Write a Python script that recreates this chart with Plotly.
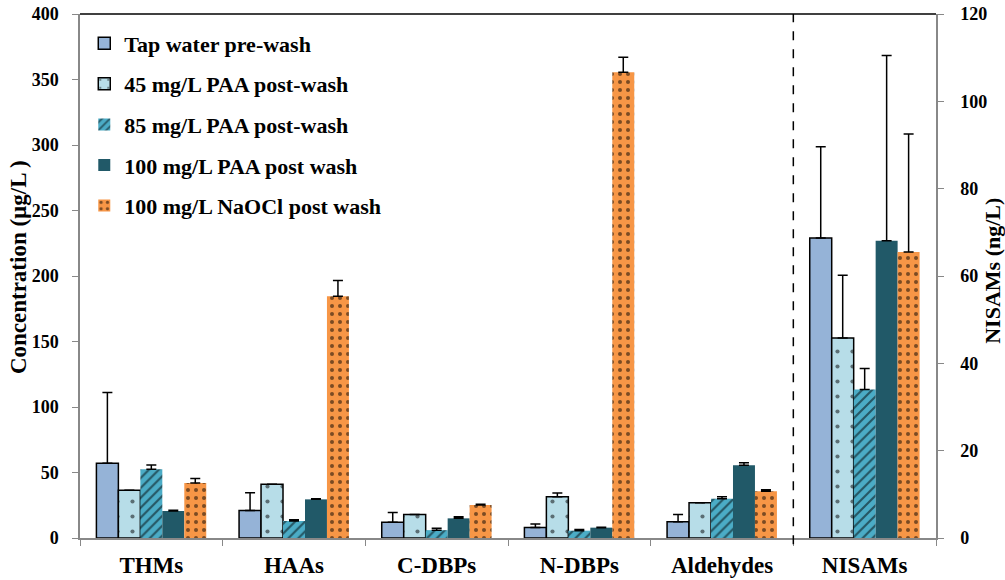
import plotly.graph_objects as go

categories = ["THMs", "HAAs", "C-DBPs", "N-DBPs", "Aldehydes", "NISAMs"]
series_names = ["Tap water pre-wash", "45 mg/L PAA post-wash", "85 mg/L PAA post-wash",
                "100 mg/L PAA post wash", "100 mg/L NaOCl post wash"]

# Left axis (µg/L) values for first five categories
tap = [57, 21, 12, 8, 12.5]
tap_err = [54, 13.5, 7.5, 2.6, 5.5]
paa45 = [36.5, 41, 18, 31.5, 27]
paa45_err = [0, 0, 0, 2.8, 0]
paa85 = [52.5, 13, 6, 5.6, 30]
paa85_err = [3.3, 1, 1.4, 0.8, 1.5]
paa100 = [20.6, 29.5, 15, 7.9, 55.5]
paa100_err = [0.5, 0.5, 1.3, 0.3, 2]
naocl = [42, 184.5, 25.2, 355.5, 35.6]
naocl_err = [3.5, 12, 0.5, 11.5, 1.3]

# Right axis (ng/L) NISAMs values per series
nisams = [68.7, 45.8, 34, 68.1, 65.5]
nisams_err = [20.9, 14.4, 4.8, 42.4, 27]

left_vals = [tap, paa45, paa85, paa100, naocl]
left_errs = [tap_err, paa45_err, paa85_err, paa100_err, naocl_err]

colors = ["#95B3D7", "#B7DDE8", "#4BACC6", "#215968", "#F79646"]
patterns = [
    dict(shape=""),
    dict(shape=".", size=15, solidity=0.06, fgcolor="black"),
    dict(shape="/", size=7, solidity=0.3, fgcolor="black"),
    dict(shape=""),
    dict(shape=".", size=8, solidity=0.2, fgcolor="black"),
]
lines = [dict(color="black", width=1.5), dict(color="black", width=1.5),
         dict(width=0), dict(width=0), dict(width=0)]

bw = 0.154
start = -0.385

font_family = "Liberation Serif"
fig = go.Figure()

for i in range(5):
    fig.add_trace(go.Bar(
        x=categories[:5], y=left_vals[i], name=series_names[i],
        width=bw, offset=start + i * bw,
        marker=dict(color=colors[i], pattern=patterns[i], line=lines[i]),
        error_y=dict(type="data", symmetric=False, array=left_errs[i],
                     arrayminus=[0] * 5, color="black", thickness=1.5, width=5),
        legendgroup=f"g{i}", yaxis="y",
    ))
for i in range(5):
    fig.add_trace(go.Bar(
        x=[categories[5]], y=[nisams[i]], name=series_names[i],
        width=bw, offset=start + i * bw,
        marker=dict(color=colors[i], pattern=patterns[i], line=lines[i]),
        error_y=dict(type="data", symmetric=False, array=[nisams_err[i]],
                     arrayminus=[0], color="black", thickness=1.5, width=5),
        legendgroup=f"g{i}", showlegend=False, yaxis="y2",
    ))

tickfont = dict(family=font_family, size=18, color="black", weight="bold")

fig.update_layout(
    width=1005, height=580,
    margin=dict(l=80, r=69, t=14, b=42, autoexpand=False),
    paper_bgcolor="white", plot_bgcolor="white",
    barmode="overlay",
    font=dict(family=font_family, color="black", weight="bold"),
    showlegend=True,
    legend=dict(x=0.005, y=0.984, xanchor="left", yanchor="top",
                font=dict(family=font_family, size=22, color="black", weight="bold"),
                tracegroupgap=9, traceorder="grouped", bgcolor="rgba(0,0,0,0)"),
    xaxis=dict(type="category", categoryorder="array", categoryarray=categories,
               range=[-0.5, 5.5], showline=True, linecolor="#888888", linewidth=1.5,
               ticks="outside", tickson="boundaries", ticklen=6, tickcolor="#888888",
               tickfont=dict(family=font_family, size=23, color="black", weight="bold"),
               ticklabelstandoff=6,
               showgrid=False, zeroline=False, automargin=False),
    yaxis=dict(range=[0, 400], dtick=50, showline=True, linecolor="#888888", linewidth=1.5,
               ticks="outside", ticklen=6, tickcolor="#888888", tickfont=tickfont,
               ticklabelstandoff=10, showgrid=False, zeroline=False, automargin=False),
    yaxis2=dict(range=[0, 120], dtick=20, overlaying="y", side="right", showline=True,
                linecolor="#888888", linewidth=1.5, ticks="outside", ticklen=6,
                tickcolor="#888888", tickfont=tickfont, ticklabelstandoff=13,
                showgrid=False, zeroline=False, automargin=False),
    shapes=[
        dict(type="line", xref="paper", yref="paper", x0=0, x1=1, y0=1, y1=1,
             line=dict(color="black", width=1.5)),
        dict(type="line", xref="x", yref="paper", x0=4.5, x1=4.5, y0=-0.012, y1=1,
             line=dict(color="black", width=1.5, dash="dash")),
    ],
    annotations=[
        dict(text="Concentration (µg/L )", xref="paper", yref="paper",
             x=-0.0724, y=0.517, xanchor="center", yanchor="middle",
             textangle=-90, showarrow=False,
             font=dict(family=font_family, size=23, color="black", weight="bold")),
        dict(text="NISAMs (ng/L)", xref="paper", yref="paper",
             x=1.0666, y=0.51, xanchor="center", yanchor="middle",
             textangle=-90, showarrow=False,
             font=dict(family=font_family, size=22, color="black", weight="bold")),
    ],
)

fig.write_html("out.html", config={"displayModeBar": False},
               post_script="document.body.style.margin='0';")
